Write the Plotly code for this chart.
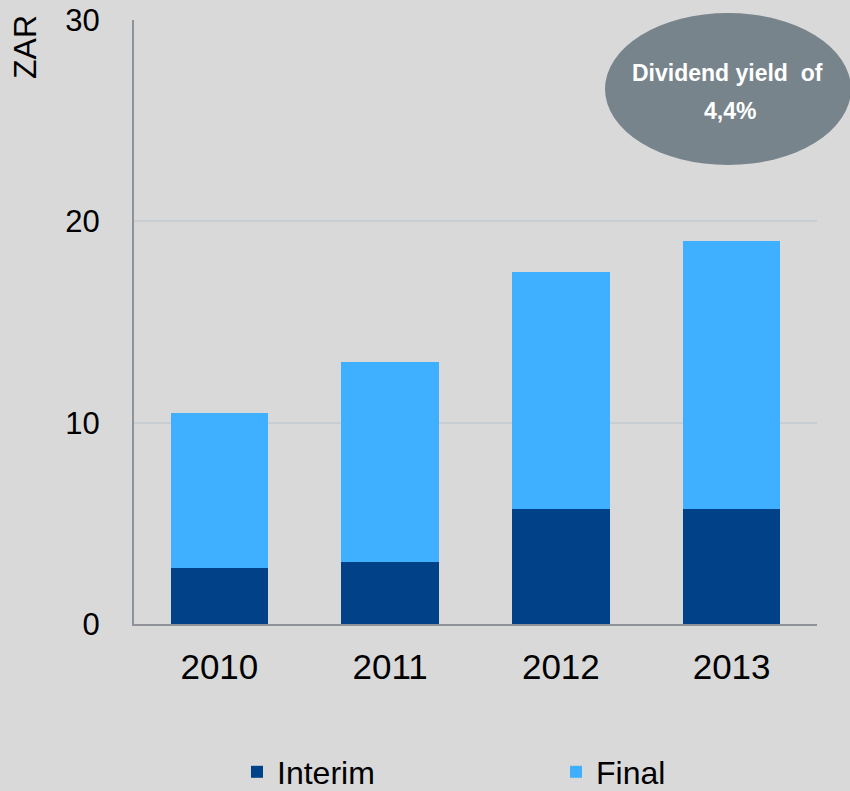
import plotly.graph_objects as go

years = ["2010", "2011", "2012", "2013"]
interim = [2.8, 3.1, 5.7, 5.7]
final = [7.7, 9.9, 11.8, 13.3]
y_ticks = [0, 10, 20, 30]

BG = "#d9d9d9"
FONT = "Liberation Sans, Arial, sans-serif"

fig = go.Figure()
fig.add_trace(go.Bar(x=years, y=interim, name="Interim", legend="legend",
                     marker=dict(color="#004187", line=dict(width=0))))
fig.add_trace(go.Bar(x=years, y=final, name="Final", legend="legend2",
                     marker=dict(color="#3eb0ff", line=dict(width=0))))

L, R, T, B = 134, 33, 20, 167
W, H = 850, 791
pw, ph = W - L - R, H - T - B

def px(x):
    return (x - L) / pw

def py(y):
    return (H - B - y) / ph

fig.add_shape(type="circle", xref="paper", yref="paper",
              x0=px(605), x1=px(851), y0=py(165), y1=py(13),
              fillcolor="#78848c", line=dict(width=0), layer="above")
fig.add_annotation(xref="paper", yref="paper", x=px(727), y=py(73),
                   xanchor="center", yanchor="middle",
                   text="<b>Dividend yield  of</b>", showarrow=False,
                   font=dict(family=FONT, size=23, color="white"))
fig.add_annotation(xref="paper", yref="paper", x=px(730), y=py(111),
                   xanchor="center", yanchor="middle",
                   text="<b>4,4%</b>", showarrow=False,
                   font=dict(family=FONT, size=23, color="white"))
fig.add_annotation(xref="paper", yref="paper", x=px(25), y=py(47),
                   xanchor="center", yanchor="middle",
                   text="ZAR", textangle=-90, showarrow=False,
                   font=dict(family=FONT, size=32, color="black"))

leg_common = dict(orientation="h", yanchor="middle", y=py(772),
                  font=dict(family=FONT, size=32), bgcolor="rgba(0,0,0,0)")

fig.update_layout(
    width=W, height=H,
    margin=dict(l=L, r=R, t=T, b=B, autoexpand=False),
    paper_bgcolor=BG, plot_bgcolor=BG,
    barmode="stack", bargap=0.43,
    font=dict(family=FONT, size=32, color="black"),
    showlegend=True,
    legend=dict(x=px(237), xanchor="left", **leg_common),
    legend2=dict(x=px(556), xanchor="left", **leg_common),
    xaxis=dict(showgrid=False, showline=True, linecolor="#8f9399", linewidth=2,
               ticks="", ticklabelstandoff=11, tickfont=dict(size=35)),
    yaxis=dict(range=[0, 30], tickvals=y_ticks, showgrid=True, gridcolor="#c9ced3", gridwidth=1.5,
               showline=True, linecolor="#8a949c", linewidth=2, zeroline=False,
               ticks="", ticklabelstandoff=26, tickfont=dict(size=31)),
)

fig.write_html("out.html", config={"displayModeBar": False},
               post_script="document.body.style.margin='0';")
